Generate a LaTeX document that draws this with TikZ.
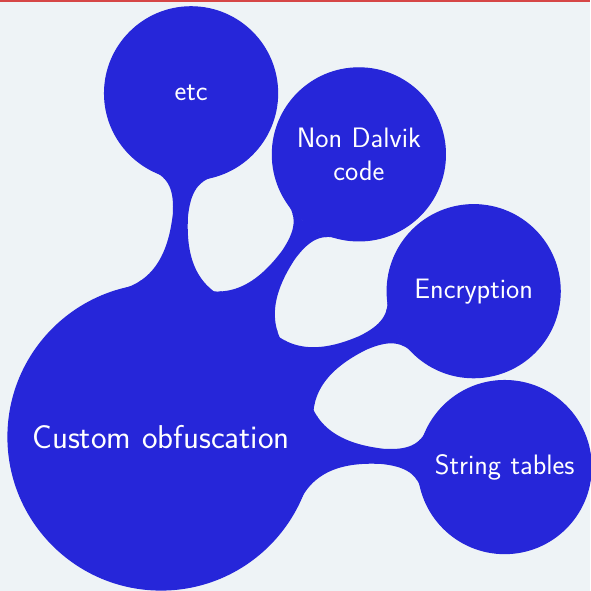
\documentclass[tikz,border=0pt]{standalone}
\usepackage{fontspec}
\usetikzlibrary{mindmap}
\definecolor{mmblue}{RGB}{38,38,217}
\definecolor{slidebg}{RGB}{238,243,246}
\definecolor{slidered}{RGB}{214,70,70}
\begin{document}
\begin{tikzpicture}[x=1pt,y=1pt]
  % slide background and top rule
  \fill[slidebg] (-161,-154) rectangle (429,437);
  \fill[slidered] (-161,435) rectangle (429,437);
  \useasboundingbox (-161,-154) rectangle (429,437);
  \begin{scope}[mindmap, concept color=mmblue, text=white,
      rootstyle/.style={concept, minimum size=306pt, text width=280pt, align=center,
        font=\fontsize{33}{39.6}\selectfont\sffamily},
      leafstyle/.style={concept, minimum size=173pt, text width=160pt, align=center,
        font=\fontsize{28.1}{33.2}\selectfont\sffamily}]
    \node[rootstyle] (root) at (0,0) {Custom obfuscation};
    \node[leafstyle] (etc) at (85:345) {etc};
    \node[leafstyle] (ndc) at (55:345) {Non Dalvik\\code};
    \node[leafstyle] (enc) at (25:345) {Encryption};
    \node[leafstyle] (str) at (-5:345) {String tables};
    \path (root) to[circle connection bar switch color=from (mmblue) to (mmblue)] (etc);
    \path (root) to[circle connection bar switch color=from (mmblue) to (mmblue)] (ndc);
    \path (root) to[circle connection bar switch color=from (mmblue) to (mmblue)] (enc);
    \path (root) to[circle connection bar switch color=from (mmblue) to (mmblue)] (str);
  \end{scope}
\end{tikzpicture}
\end{document}
